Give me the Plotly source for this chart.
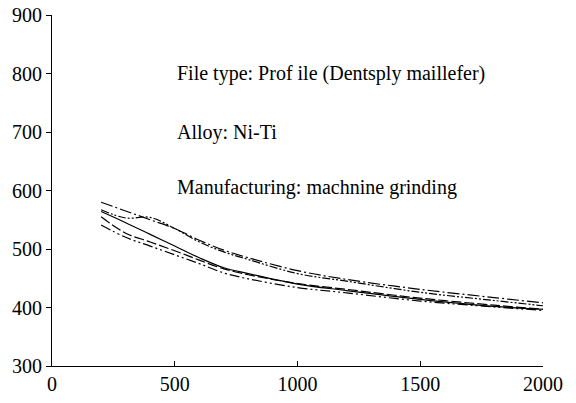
"""Torque vs. cycles curves for a Ni-Ti profile file."""

import plotly.graph_objects as go

_FONT = "Liberation Serif"

x_vals = [200, 300, 400, 500, 600, 700, 800, 1000, 1200, 1500, 1800, 2000]

solid = [564, 545, 525, 505, 485, 468, 458, 440, 429, 414, 402, 397]
upper_dashdot = [580, 565, 550, 535, 515, 498, 485, 463, 448, 431, 417, 408]
dashdotdot = [567, 553, 554, 535, 512, 495, 482, 458, 445, 426, 412, 403]
lower_dash = [555, 527, 512, 497, 481, 466, 456, 441, 431, 416, 404, 397]
lowest_dashdot = [541, 520, 505, 490, 475, 459, 449, 434, 425, 411, 401, 395]

notes = [
    "File type: Prof ile (Dentsply maillefer)",
    "Alloy: Ni-Ti",
    "Manufacturing: machnine grinding",
]
note_y = [800, 700, 605]

series = [
    (solid, "solid"),
    (upper_dashdot, "12px,3px,2px,3px"),
    (dashdotdot, "8px,2px,2px,2px,2px,2px"),
    (lower_dash, "10px,3px"),
    (lowest_dashdot, "10px,3px,2px,3px,2px,3px"),
]

fig = go.Figure()
for ys, dash in series:
    fig.add_trace(
        go.Scatter(
            x=x_vals,
            y=ys,
            mode="lines",
            line={"color": "black", "width": 1.2, "dash": dash, "shape": "spline"},
            showlegend=False,
        )
    )

for text, y in zip(notes, note_y):
    fig.add_annotation(
        x=500, y=y, text=text, showarrow=False, xanchor="left",
        font={"size": 20, "color": "black", "family": _FONT},
    )

fig.update_layout(
    width=576,
    height=403,
    paper_bgcolor="white",
    plot_bgcolor="white",
    font={"family": _FONT, "size": 20, "color": "black"},
    margin={"l": 52, "r": 33, "t": 15, "b": 37},
    xaxis={
        "range": [0, 2000], "tickvals": [0, 500, 1000, 1500, 2000],
        "showgrid": False, "zeroline": False, "showline": True,
        "linecolor": "black", "linewidth": 1, "ticks": "inside",
        "ticklen": 5, "tickcolor": "black", "automargin": False,
    },
    yaxis={
        "range": [300, 900], "tickvals": [300, 400, 500, 600, 700, 800, 900],
        "showgrid": False, "zeroline": False, "showline": True,
        "linecolor": "black", "linewidth": 1, "ticks": "outside",
        "ticklen": 5, "tickcolor": "black", "automargin": False,
    },
)

# drop the default 8px page margin so the figure sits at the window's corner
fig.write_html(
    "out.html",
    config={"displayModeBar": False},
    post_script="document.body.style.margin='0';document.body.style.overflow='hidden';",
)
